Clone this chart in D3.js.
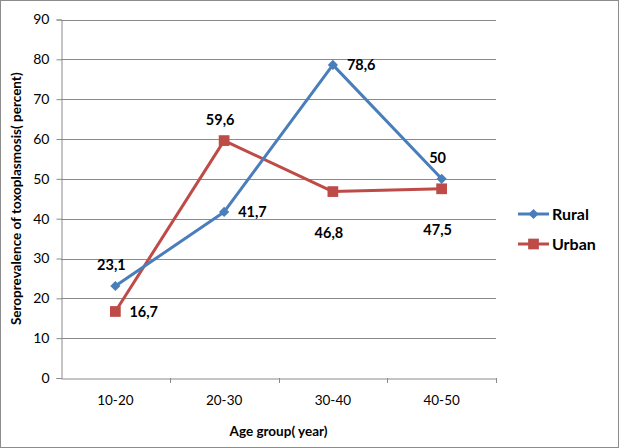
<!DOCTYPE html>
<html>
<head>
<meta charset="utf-8">
<script src="https://cdn.jsdelivr.net/npm/d3@7"></script>
<style>
  body { margin: 0; background: #fff; }
  text { font-family: Lato, "Open Sans", sans-serif; fill: #000; }
</style>
</head>
<body>
<div id="app"></div>
<script>
const WIDTH = 619, HEIGHT = 448;

// data
const ageGroups = ["10-20", "20-30", "30-40", "40-50"];
const rural = [23.1, 41.7, 78.6, 50];
const urban = [16.7, 59.6, 46.8, 47.5];
const ruralLabels = ["23,1", "41,7", "78,6", "50"];
const urbanLabels = ["16,7", "59,6", "46,8", "47,5"];
const yTicks = [0, 10, 20, 30, 40, 50, 60, 70, 80, 90];

const margin = { left: 61, right: 123, top: 19.5, bottom: 70 };

const svg = d3.select("#app").append("svg")
    .attr("width", WIDTH)
    .attr("height", HEIGHT);

// outer frame
svg.append("rect")
    .attr("x", 0.5).attr("y", 0.5)
    .attr("width", WIDTH - 1).attr("height", HEIGHT - 1)
    .attr("fill", "#fff")
    .attr("stroke", "#8c8c8c");

const x = d3.scaleBand()
    .domain(ageGroups)
    .range([margin.left, WIDTH - margin.right]);

const y = d3.scaleLinear()
    .domain([0, 90])
    .range([HEIGHT - margin.bottom, margin.top]);

// gridlines
svg.append("g")
    .selectAll("line")
    .data(yTicks.filter(d => d > 0))
    .join("line")
    .attr("x1", margin.left).attr("x2", WIDTH - margin.right)
    .attr("y1", d => Math.round(y(d)) + 0.5).attr("y2", d => Math.round(y(d)) + 0.5)
    .attr("stroke", "#8a8a8a")
    .attr("stroke-width", 1);

// y axis
const yAxis = svg.append("g")
    .attr("transform", `translate(${margin.left + 0.5},0)`)
    .call(d3.axisLeft(y).tickValues(yTicks).tickSize(5).tickPadding(7));
yAxis.select(".domain").attr("stroke", "#8a8a8a");
yAxis.selectAll(".tick line").attr("stroke", "#8a8a8a");
yAxis.selectAll(".tick text")
    .style("font-size", "14px")
    .attr("fill", "#000");

// x axis
const xAxis = svg.append("g")
    .attr("transform", `translate(0,${Math.round(y(0)) + 0.5})`)
    .call(d3.axisBottom(x).tickSize(0).tickPadding(17));
xAxis.select(".domain").attr("stroke", "#8a8a8a");
xAxis.selectAll(".tick text")
    .style("font-size", "13.5px")
    .attr("fill", "#000");
// category boundary ticks
svg.append("g")
    .selectAll("line")
    .data(ageGroups)
    .join("line")
    .attr("x1", d => Math.round(x(d) + x.bandwidth()) + 0.5)
    .attr("x2", d => Math.round(x(d) + x.bandwidth()) + 0.5)
    .attr("y1", y(0)).attr("y2", y(0) + 5)
    .attr("stroke", "#8a8a8a");

// axis titles
svg.append("text")
    .attr("x", (margin.left + WIDTH - margin.right) / 2)
    .attr("y", 436)
    .attr("text-anchor", "middle")
    .style("font-size", "13.5px")
    .style("font-weight", "bold")
    .text("Age group( year)");

svg.append("text")
    .attr("transform", `translate(21,${(margin.top + y(0)) / 2}) rotate(-90)`)
    .attr("text-anchor", "middle")
    .style("font-size", "13.5px")
    .style("font-weight", "bold")
    .text("Seroprevalence of toxoplasmosis( percent)");

const cx = d => x(d) + x.bandwidth() / 2;
const line = d3.line()
    .x((d, i) => cx(ageGroups[i]))
    .y(d => y(d));

const series = [
    { name: "Rural", values: rural, labels: ruralLabels, color: "#4a7ebb", symbol: d3.symbolSquare, size: 52, rot: 45,
      pos: ["above", "right", "right", "above"] },
    { name: "Urban", values: urban, labels: urbanLabels, color: "#be4b48", symbol: d3.symbolSquare, size: 115, rot: 0,
      pos: ["right", "above", "below", "below"] }
];

// draw urban first so rural sits on top
series.slice().reverse().forEach(s => {
    svg.append("path")
        .datum(s.values)
        .attr("d", line)
        .attr("fill", "none")
        .attr("stroke", s.color)
        .attr("stroke-width", 3)
        .attr("stroke-linejoin", "round");
});
series.slice().reverse().forEach(s => {
    svg.append("g")
        .selectAll("path")
        .data(s.values)
        .join("path")
        .attr("transform", (d, i) => `translate(${cx(ageGroups[i])},${y(d)}) rotate(${s.rot})`)
        .attr("d", d3.symbol().type(s.symbol).size(s.size))
        .attr("fill", s.color);
});

// data labels
series.forEach(s => {
    svg.append("g")
        .selectAll("text")
        .data(s.values)
        .join("text")
        .attr("x", (d, i) => {
            const p = s.pos[i];
            return p === "right" ? cx(ageGroups[i]) + 14 : cx(ageGroups[i]) - 4;
        })
        .attr("y", (d, i) => {
            const p = s.pos[i];
            if (p === "above") return y(d) - 21;
            if (p === "below") return y(d) + 41;
            return y(d);
        })
        .attr("dy", "0.35em")
        .attr("text-anchor", (d, i) => s.pos[i] === "right" ? "start" : "middle")
        .style("font-size", "14.5px")
        .style("font-weight", "bold")
        .text((d, i) => s.labels[i]);
});

// legend
const legend = svg.append("g")
    .selectAll("g")
    .data(series)
    .join("g")
    .attr("transform", (d, i) => `translate(518,${214 + i * 30})`);
legend.append("line")
    .attr("x1", 0).attr("x2", 31)
    .attr("stroke", d => d.color)
    .attr("stroke-width", 3);
legend.append("path")
    .attr("transform", d => `translate(15.5,0) rotate(${d.rot})`)
    .attr("d", d => d3.symbol().type(d.symbol).size(d.size)())
    .attr("fill", d => d.color);
legend.append("text")
    .attr("x", 34)
    .attr("dy", "0.35em")
    .style("font-size", "16px")
    .style("font-weight", "bold")
    .text(d => d.name);
</script>
</body>
</html>
